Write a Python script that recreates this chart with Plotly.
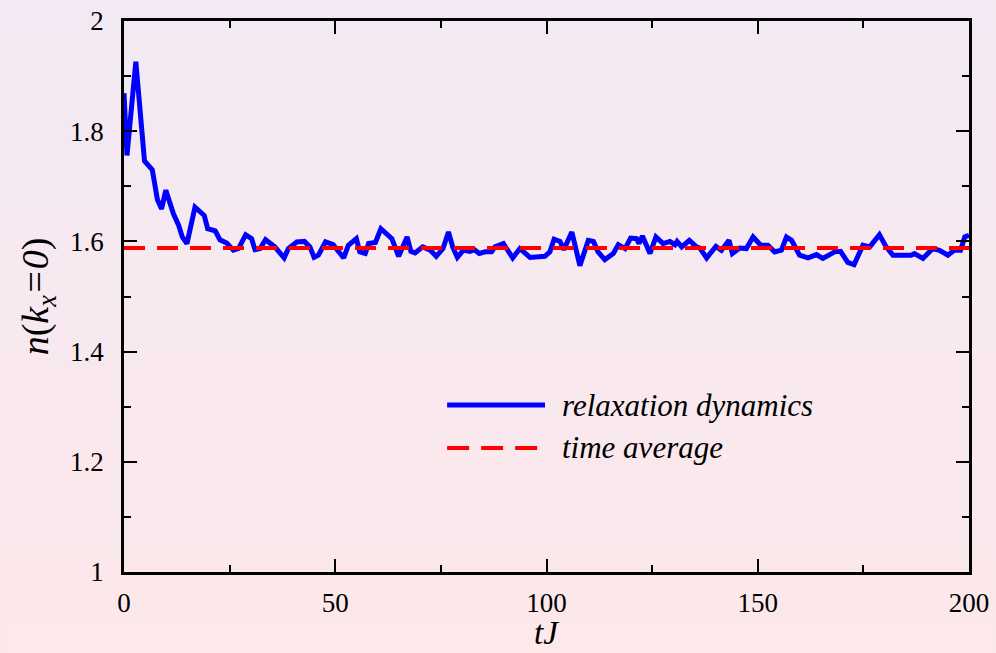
import base64
import struct
import zlib

import plotly.graph_objects as go

# ---------------- data ----------------
t_values = [0, 0.7, 2.8, 4.85, 6.7, 7.9, 8.9, 9.9, 11.7, 12.9, 13.8, 14.9, 16.8, 19.0, 19.8,
            21.6, 22.7, 24.3, 25.9, 27.1, 28.8, 30.2, 31.0, 32.2, 33.5, 35.7, 37.9, 38.9, 40.9,
            42.7, 44.0, 45.0, 46.0, 47.7, 49.5, 52.0, 53.1, 55.0, 55.8, 57.1, 57.9, 59.5, 60.8,
            62.4, 63.4, 65.0, 67.0, 67.9, 68.9, 70.7, 72.5, 73.9, 75.5, 76.8, 77.8, 78.9, 80.3,
            81.9, 82.9, 84.1, 85.5, 87.0, 87.8, 89.8, 90.6, 92.0, 93.7, 94.5, 96.1, 99.6, 100.8,
            101.8, 103.2, 104.1, 106.0, 107.9, 109.9, 111.1, 112.2, 113.8, 115.8, 117.0, 118.6,
            119.9, 121.3, 121.9, 122.7, 124.5, 125.9, 127.6, 129.2, 130.4, 130.9, 132.0, 133.8,
            135.5, 136.3, 137.9, 140.1, 141.4, 143.2, 144.0, 145.7, 147.3, 148.9, 150.7, 152.4,
            154.0, 155.6, 156.8, 158.0, 159.9, 161.9, 163.9, 165.4, 168.2, 169.6, 171.3, 172.8,
            174.9, 176.5, 178.8, 180.4, 182.0, 184.0, 186.3, 187.1, 189.1, 191.4, 193.0, 195.0,
            196.5, 198.0, 199.0, 200]

n_values = [1.869, 1.756, 1.926, 1.746, 1.730, 1.676, 1.659, 1.693, 1.650, 1.630, 1.608, 1.596,
            1.662, 1.647, 1.623, 1.619, 1.603, 1.597, 1.584, 1.587, 1.612, 1.605, 1.585, 1.587,
            1.603, 1.590, 1.570, 1.587, 1.599, 1.600, 1.590, 1.571, 1.575, 1.599, 1.594, 1.570,
            1.593, 1.605, 1.581, 1.578, 1.596, 1.598, 1.623, 1.611, 1.605, 1.573, 1.608, 1.582,
            1.579, 1.590, 1.584, 1.573, 1.587, 1.617, 1.590, 1.571, 1.584, 1.582, 1.585, 1.578,
            1.581, 1.581, 1.590, 1.596, 1.587, 1.570, 1.587, 1.581, 1.571, 1.573, 1.581, 1.604,
            1.600, 1.585, 1.617, 1.556, 1.602, 1.600, 1.581, 1.567, 1.578, 1.594, 1.587, 1.606,
            1.605, 1.596, 1.610, 1.578, 1.608, 1.596, 1.600, 1.594, 1.600, 1.590, 1.602, 1.590,
            1.588, 1.570, 1.591, 1.584, 1.602, 1.578, 1.588, 1.587, 1.608, 1.593, 1.593, 1.581,
            1.584, 1.608, 1.602, 1.575, 1.570, 1.576, 1.569, 1.581, 1.582, 1.562, 1.558, 1.593,
            1.590, 1.612, 1.590, 1.575, 1.576, 1.575, 1.578, 1.569, 1.587, 1.584, 1.575, 1.584,
            1.584, 1.608, 1.611]

avg_t = [0, 200]
avg_value = 1.588

series_names = ["relaxation dynamics", "time average"]
x_title = "tJ"
y_title = "<i>n</i>(<i>k<sub>x</sub></i><i>=0</i>)"

# ---------------- background gradient ----------------
def gradient_png(top, bottom, h=256, w=2):
    rows = []
    for i in range(h):
        f = i / (h - 1)
        c = bytes(int(round(top[k] + (bottom[k] - top[k]) * f)) for k in range(3))
        rows.append(b"\x00" + c * w)
    raw = b"".join(rows)

    def chunk(tag, data):
        return (struct.pack(">I", len(data)) + tag + data
                + struct.pack(">I", zlib.crc32(tag + data) & 0xFFFFFFFF))

    png = (b"\x89PNG\r\n\x1a\n"
           + chunk(b"IHDR", struct.pack(">IIBBBBB", w, h, 8, 2, 0, 0, 0))
           + chunk(b"IDAT", zlib.compress(raw))
           + chunk(b"IEND", b""))
    return "data:image/png;base64," + base64.b64encode(png).decode()


W, H = 996, 653
ML, MR, MT, MB = 123.5, 26.5, 21, 81
PW, PH = W - ML - MR, H - MT - MB

FONT = "Liberation Serif, Times New Roman, serif"

fig = go.Figure()
fig.add_trace(go.Scatter(x=t_values, y=n_values, mode="lines", name=series_names[0],
                         line=dict(color="#0000ff", width=5), showlegend=False))
fig.add_trace(go.Scatter(x=avg_t, y=[avg_value] * len(avg_t), mode="lines", name=series_names[1],
                         line=dict(color="#ff0000", width=4, dash="21px,12px"), showlegend=False))

axis_common = dict(showline=True, linecolor="black", linewidth=2.5, mirror="allticks",
                   ticks="inside", ticklen=13, tickwidth=1.5, tickcolor="black",
                   showgrid=False, zeroline=False, automargin=False,
                   tickfont=dict(family=FONT, size=27, color="black"))

fig.update_xaxes(range=[0, 200], tick0=0, dtick=50,
                 minor=dict(dtick=25, ticks="inside", ticklen=7, tickwidth=1.5, tickcolor="black"),
                 ticklabelstandoff=5,
                 **axis_common)
fig.update_yaxes(range=[1, 2], tick0=1, dtick=0.2,
                 minor=dict(dtick=0.1, ticks="inside", ticklen=7, tickwidth=1.5, tickcolor="black"),
                 ticklabelstandoff=12,
                 title=dict(text=y_title, font=dict(family=FONT, size=38, color="black"),
                            standoff=10),
                 **axis_common)

# x-axis title placed as an annotation, bottom-anchored just inside the figure edge
fig.add_annotation(xref="paper", yref="paper", x=0.5, y=-(652 - (H - MB)) / PH,
                   xanchor="center", yanchor="bottom", showarrow=False, borderpad=0,
                   text="<i>" + x_title + "</i>", font=dict(family=FONT, size=33, color="black"))

# manual legend (long line samples like the reference)
leg_x0 = (447 - ML) / PW
leg_x1 = (545 - ML) / PW
leg_tx = (560 - ML) / PW
row_y = [(H - MB - 405) / PH, (H - MB - 448) / PH]
styles = [dict(color="#0000ff", width=5), dict(color="#ff0000", width=4, dash="22px,12px")]
for name, yy, st in zip(series_names, row_y, styles):
    fig.add_shape(type="line", xref="paper", yref="paper", x0=leg_x0, x1=leg_x1, y0=yy, y1=yy,
                  line=st)
    fig.add_annotation(xref="paper", yref="paper", x=leg_tx, y=yy, xanchor="left", yanchor="middle",
                       text="<i>" + name + "</i>", showarrow=False,
                       font=dict(family=FONT, size=31, color="black"))

fig.add_layout_image(dict(source=gradient_png((242, 233, 244), (253, 232, 234)),
                          xref="paper", yref="paper", x=-ML / PW, y=1 + MT / PH,
                          sizex=W / PW, sizey=H / PH, sizing="stretch", xanchor="left",
                          yanchor="top", layer="below", opacity=1))

fig.update_layout(width=W, height=H, margin=dict(l=ML, r=MR, t=MT, b=MB, pad=0, autoexpand=False),
                  paper_bgcolor="#f7e8ef", plot_bgcolor="rgba(0,0,0,0)",
                  font=dict(family=FONT, color="black"), showlegend=False)

fig.write_html("out.html", config={"displayModeBar": False},
               post_script="document.body.style.margin='0';document.body.style.padding='0';"
                           "document.body.style.background='#fde8ea';")
